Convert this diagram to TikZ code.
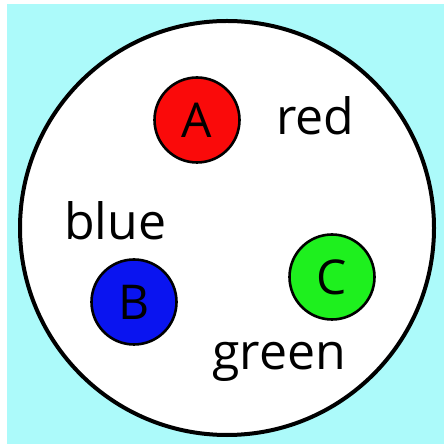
\documentclass[tikz,border=0pt]{standalone}
\usepackage{fontspec}
\setmainfont{Open Sans}
\usepackage{xcolor}
\usetikzlibrary{positioning}

\definecolor{skycyan}{RGB}{172,250,250}
\definecolor{ballred}{RGB}{250,10,10}
\definecolor{ballblue}{RGB}{10,20,240}
\definecolor{ballgreen}{RGB}{30,240,30}

\begin{document}
\begin{tikzpicture}[
    x=1pt, y=1pt,
    ball/.style={circle, draw, line width=2.6pt, minimum size=85pt, inner sep=0pt, font=\fontsize{48}{48}\selectfont},
    label/.style={anchor=base west, inner sep=0pt, font=\fontsize{50}{50}\selectfont}
]
\useasboundingbox (0,0) rectangle (444,444);
\fill[skycyan] (7,0) rectangle (444,440);

\node (set) [circle, draw, fill=white, line width=4pt, minimum size=414pt, inner sep=0pt] at (227,216) {};

\node (A) [ball, fill=ballred] at (197,324) {A};
\node (B) [ball, fill=ballblue] at (134,142) {B};
\node (C) [ball, fill=ballgreen] at (332,167) {C};

\node (red) [label] at (276,309) {red};
\node (blue) [label] at (64,204) {blue};
\node (green) [label] at (212,74) {green};
\end{tikzpicture}
\end{document}
